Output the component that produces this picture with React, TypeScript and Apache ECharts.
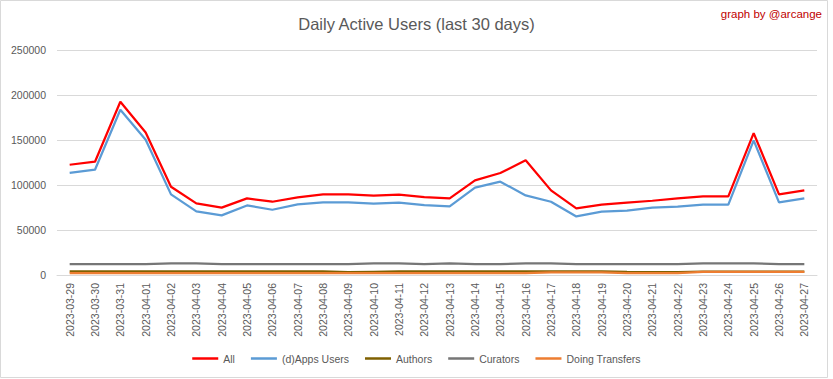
import React, { useEffect, useRef } from "react";
import * as echarts from "echarts";

const dates = [
  "2023-03-29", "2023-03-30", "2023-03-31", "2023-04-01", "2023-04-02", "2023-04-03",
  "2023-04-04", "2023-04-05", "2023-04-06", "2023-04-07", "2023-04-08", "2023-04-09",
  "2023-04-10", "2023-04-11", "2023-04-12", "2023-04-13", "2023-04-14", "2023-04-15",
  "2023-04-16", "2023-04-17", "2023-04-18", "2023-04-19", "2023-04-20", "2023-04-21",
  "2023-04-22", "2023-04-23", "2023-04-24", "2023-04-25", "2023-04-26", "2023-04-27",
];

const allUsers = [
  122500, 125900, 192500, 158400, 98100, 79600, 74800, 85100, 81400, 86300,
  89600, 89600, 88100, 89200, 86600, 85100, 105100, 113300, 127400, 94000,
  74000, 78100, 80300, 82500, 85100, 87300, 87300, 157700, 89600, 94000,
];

const appsUsers = [
  113600, 117000, 183600, 150300, 89600, 70700, 66200, 77300, 72500, 78400,
  80700, 80700, 79200, 80300, 77700, 76200, 97000, 103700, 88400, 81400,
  65100, 70300, 71400, 74800, 75900, 78100, 78100, 149600, 80700, 85100,
];

const authors = [
  4000, 4000, 4000, 4000, 4000, 4000, 4000, 4000, 4000, 4000,
  4000, 3200, 3600, 4000, 4000, 4000, 4000, 4000, 4000, 4000,
  4000, 4000, 3600, 3300, 3300, 3800, 3800, 3800, 3800, 3800,
];

const curators = [
  12000, 12000, 12000, 12000, 13000, 13000, 12000, 12000, 12000, 12000,
  12000, 12000, 13000, 13000, 12000, 13000, 12000, 12000, 13000, 13000,
  12000, 12000, 12000, 12000, 12000, 13000, 13000, 13000, 12000, 12000,
];

const transfers = [
  2000, 2000, 2000, 2000, 2000, 2000, 2000, 2000, 2000, 2000,
  2000, 2000, 2000, 2000, 2000, 2000, 2000, 2000, 2000, 2800,
  2800, 2800, 2000, 2000, 2000, 3500, 3500, 3500, 3500, 3500,
];

const FONT = "'Liberation Sans', Arial, sans-serif";

export default function App() {
  const ref = useRef<HTMLDivElement>(null);
  useEffect(() => {
    document.body.style.margin = "0";
    const chart = echarts.init(ref.current!, undefined, { renderer: "svg" });
    const mk = (name: string, data: number[], color: string, width = 2.25) => ({
      name,
      type: "line",
      data,
      symbol: "none",
      lineStyle: { color, width },
      itemStyle: { color },
    });
    chart.setOption({
      animation: false,
      backgroundColor: "#ffffff",
      textStyle: { fontFamily: FONT },
      graphic: [
        {
          type: "rect",
          shape: { x: 0.5, y: 0.5, width: 827, height: 377 },
          style: { fill: "none", stroke: "#D9D9D9", lineWidth: 1 },
          silent: true,
        },
        {
          type: "text",
          right: 11,
          top: 8,
          style: {
            text: "graph by @arcange",
            fill: "#C00000",
            font: `11.5px ${FONT}`,
          },
        },
      ],
      title: {
        text: "Daily Active Users (last 30 days)",
        left: "center",
        top: 10,
        textStyle: { color: "#595959", fontSize: 16.5, fontWeight: "normal", fontFamily: FONT },
      },
      legend: {
        bottom: 10,
        left: "center",
        icon: "rect",
        itemWidth: 26,
        itemHeight: 2.5,
        itemGap: 16,
        textStyle: { color: "#595959", fontSize: 10.5, fontFamily: FONT },
        data: ["All", "(d)Apps Users", "Authors", "Curators", "Doing Transfers"],
      },
      grid: { left: 57, right: 16, top: 50, bottom: 104, containLabel: false },
      xAxis: {
        type: "category",
        data: dates,
        boundaryGap: true,
        axisLine: { lineStyle: { color: "#D9D9D9", width: 1 } },
        axisTick: { show: false },
        axisLabel: {
          rotate: 90,
          interval: 0,
          margin: 8,
          color: "#595959",
          fontSize: 10.5,
          fontFamily: FONT,
        },
      },
      yAxis: {
        type: "value",
        min: 0,
        max: 250000,
        interval: 50000,
        axisLine: { show: false },
        axisTick: { show: false },
        splitLine: { lineStyle: { color: "#D9D9D9", width: 1 } },
        axisLabel: {
          color: "#595959",
          fontSize: 10.5,
          margin: 11,
          fontFamily: FONT,
          formatter: (v: number) => String(v),
        },
      },
      series: [
        mk("All", allUsers, "#FF0000"),
        mk("(d)Apps Users", appsUsers, "#5B9BD5"),
        mk("Authors", authors, "#7F6000"),
        mk("Curators", curators, "#767676"),
        mk("Doing Transfers", transfers, "#ED7D31"),
      ],
    });
    return () => chart.dispose();
  }, []);
  return <div ref={ref} style={{ width: 833, height: 379 }} />;
}
